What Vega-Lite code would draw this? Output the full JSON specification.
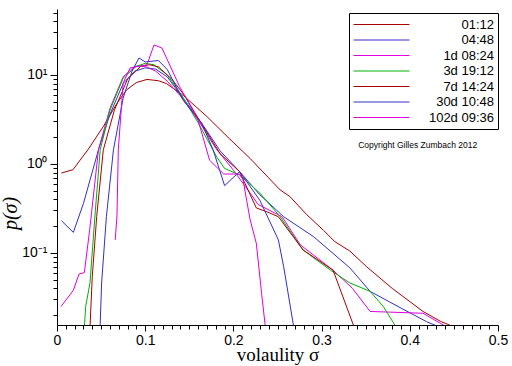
{
  "$schema": "https://vega.github.io/schema/vega-lite/v6.json",
  "autosize": "none",
  "padding": {"left": 57, "top": 9, "right": 14, "bottom": 41},
  "width": 441,
  "height": 316,
  "background": "white",
  "config": {"view": {"stroke": null}},
  "resolve": {"axis": {"x": "independent", "y": "independent"}},
  "datasets": {
    "curves": [
      {"s": "01:12", "x": 0.005, "y": 0.79}, {"s": "01:12", "x": 0.018, "y": 0.86}, {"s": "01:12", "x": 0.035, "y": 1.44}, {"s": "01:12", "x": 0.0525, "y": 2.63}, {"s": "01:12", "x": 0.068, "y": 4.8}, {"s": "01:12", "x": 0.079, "y": 6.8}, {"s": "01:12", "x": 0.09, "y": 8.2}, {"s": "01:12", "x": 0.102, "y": 8.9}, {"s": "01:12", "x": 0.115, "y": 8.6}, {"s": "01:12", "x": 0.124, "y": 8.0}, {"s": "01:12", "x": 0.143, "y": 5.9}, {"s": "01:12", "x": 0.17, "y": 3.4}, {"s": "01:12", "x": 0.196, "y": 1.9}, {"s": "01:12", "x": 0.219, "y": 1.15}, {"s": "01:12", "x": 0.253, "y": 0.51}, {"s": "01:12", "x": 0.264, "y": 0.43}, {"s": "01:12", "x": 0.283, "y": 0.27}, {"s": "01:12", "x": 0.302, "y": 0.18}, {"s": "01:12", "x": 0.315, "y": 0.134}, {"s": "01:12", "x": 0.332, "y": 0.105}, {"s": "01:12", "x": 0.351, "y": 0.07}, {"s": "01:12", "x": 0.38, "y": 0.04}, {"s": "01:12", "x": 0.415, "y": 0.022}, {"s": "01:12", "x": 0.435, "y": 0.017}, {"s": "01:12", "x": 0.452, "y": 0.0145},
      {"s": "04:48", "x": 0.005, "y": 0.23}, {"s": "04:48", "x": 0.0185, "y": 0.17}, {"s": "04:48", "x": 0.03, "y": 0.36}, {"s": "04:48", "x": 0.047, "y": 1.44}, {"s": "04:48", "x": 0.06, "y": 3.6}, {"s": "04:48", "x": 0.075, "y": 8}, {"s": "04:48", "x": 0.088, "y": 11}, {"s": "04:48", "x": 0.1, "y": 12}, {"s": "04:48", "x": 0.112, "y": 11.6}, {"s": "04:48", "x": 0.125, "y": 9.5}, {"s": "04:48", "x": 0.14, "y": 6}, {"s": "04:48", "x": 0.164, "y": 2.87}, {"s": "04:48", "x": 0.185, "y": 1.4}, {"s": "04:48", "x": 0.207, "y": 0.82}, {"s": "04:48", "x": 0.23, "y": 0.45}, {"s": "04:48", "x": 0.257, "y": 0.255}, {"s": "04:48", "x": 0.291, "y": 0.152}, {"s": "04:48", "x": 0.332, "y": 0.068}, {"s": "04:48", "x": 0.355, "y": 0.037}, {"s": "04:48", "x": 0.39, "y": 0.024}, {"s": "04:48", "x": 0.419, "y": 0.0169}, {"s": "04:48", "x": 0.435, "y": 0.0145},
      {"s": "1d 08:24", "x": 0.0045, "y": 0.025}, {"s": "1d 08:24", "x": 0.0185, "y": 0.038}, {"s": "1d 08:24", "x": 0.025, "y": 0.058}, {"s": "1d 08:24", "x": 0.031, "y": 0.06}, {"s": "1d 08:24", "x": 0.037, "y": 0.18}, {"s": "1d 08:24", "x": 0.047, "y": 1.44}, {"s": "1d 08:24", "x": 0.06, "y": 4.2}, {"s": "1d 08:24", "x": 0.075, "y": 9.5}, {"s": "1d 08:24", "x": 0.088, "y": 12.5}, {"s": "1d 08:24", "x": 0.1, "y": 12.5}, {"s": "1d 08:24", "x": 0.112, "y": 11}, {"s": "1d 08:24", "x": 0.125, "y": 8.5}, {"s": "1d 08:24", "x": 0.14, "y": 5.8}, {"s": "1d 08:24", "x": 0.16, "y": 3.1}, {"s": "1d 08:24", "x": 0.18, "y": 1.5}, {"s": "1d 08:24", "x": 0.2, "y": 0.85}, {"s": "1d 08:24", "x": 0.219, "y": 0.47}, {"s": "1d 08:24", "x": 0.228, "y": 0.35}, {"s": "1d 08:24", "x": 0.255, "y": 0.256}, {"s": "1d 08:24", "x": 0.276, "y": 0.123}, {"s": "1d 08:24", "x": 0.313, "y": 0.064}, {"s": "1d 08:24", "x": 0.335, "y": 0.04}, {"s": "1d 08:24", "x": 0.355, "y": 0.022}, {"s": "1d 08:24", "x": 0.415, "y": 0.021}, {"s": "1d 08:24", "x": 0.438, "y": 0.0155}, {"s": "1d 08:24", "x": 0.445, "y": 0.014},
      {"s": "3d 19:12", "x": 0.0305, "y": 0.012}, {"s": "3d 19:12", "x": 0.0325, "y": 0.025}, {"s": "3d 19:12", "x": 0.0374, "y": 0.046}, {"s": "3d 19:12", "x": 0.043, "y": 0.26}, {"s": "3d 19:12", "x": 0.049, "y": 1.44}, {"s": "3d 19:12", "x": 0.06, "y": 4}, {"s": "3d 19:12", "x": 0.075, "y": 9.2}, {"s": "3d 19:12", "x": 0.09, "y": 12.5}, {"s": "3d 19:12", "x": 0.1, "y": 13.5}, {"s": "3d 19:12", "x": 0.11, "y": 13}, {"s": "3d 19:12", "x": 0.125, "y": 10}, {"s": "3d 19:12", "x": 0.14, "y": 6.2}, {"s": "3d 19:12", "x": 0.16, "y": 2.9}, {"s": "3d 19:12", "x": 0.181, "y": 1.2}, {"s": "3d 19:12", "x": 0.19, "y": 0.89}, {"s": "3d 19:12", "x": 0.207, "y": 0.75}, {"s": "3d 19:12", "x": 0.23, "y": 0.47}, {"s": "3d 19:12", "x": 0.253, "y": 0.255}, {"s": "3d 19:12", "x": 0.279, "y": 0.108}, {"s": "3d 19:12", "x": 0.31, "y": 0.064}, {"s": "3d 19:12", "x": 0.332, "y": 0.046}, {"s": "3d 19:12", "x": 0.355, "y": 0.037}, {"s": "3d 19:12", "x": 0.37, "y": 0.025}, {"s": "3d 19:12", "x": 0.383, "y": 0.0155}, {"s": "3d 19:12", "x": 0.387, "y": 0.013},
      {"s": "7d 14:24", "x": 0.037, "y": 0.012}, {"s": "7d 14:24", "x": 0.04, "y": 0.054}, {"s": "7d 14:24", "x": 0.045, "y": 0.256}, {"s": "7d 14:24", "x": 0.0525, "y": 1.44}, {"s": "7d 14:24", "x": 0.065, "y": 4}, {"s": "7d 14:24", "x": 0.08, "y": 9}, {"s": "7d 14:24", "x": 0.095, "y": 12.5}, {"s": "7d 14:24", "x": 0.105, "y": 13}, {"s": "7d 14:24", "x": 0.115, "y": 12.3}, {"s": "7d 14:24", "x": 0.13, "y": 9}, {"s": "7d 14:24", "x": 0.145, "y": 5.8}, {"s": "7d 14:24", "x": 0.165, "y": 2.7}, {"s": "7d 14:24", "x": 0.185, "y": 1.3}, {"s": "7d 14:24", "x": 0.207, "y": 0.82}, {"s": "7d 14:24", "x": 0.226, "y": 0.32}, {"s": "7d 14:24", "x": 0.238, "y": 0.29}, {"s": "7d 14:24", "x": 0.251, "y": 0.255}, {"s": "7d 14:24", "x": 0.279, "y": 0.108}, {"s": "7d 14:24", "x": 0.313, "y": 0.064}, {"s": "7d 14:24", "x": 0.336, "y": 0.0155}, {"s": "7d 14:24", "x": 0.338, "y": 0.013},
      {"s": "30d 10:48", "x": 0.0485, "y": 0.012}, {"s": "30d 10:48", "x": 0.0506, "y": 0.046}, {"s": "30d 10:48", "x": 0.056, "y": 0.256}, {"s": "30d 10:48", "x": 0.064, "y": 1.44}, {"s": "30d 10:48", "x": 0.075, "y": 5.5}, {"s": "30d 10:48", "x": 0.085, "y": 11}, {"s": "30d 10:48", "x": 0.093, "y": 15.5}, {"s": "30d 10:48", "x": 0.1, "y": 14}, {"s": "30d 10:48", "x": 0.115, "y": 14.5}, {"s": "30d 10:48", "x": 0.125, "y": 11.5}, {"s": "30d 10:48", "x": 0.143, "y": 5.2}, {"s": "30d 10:48", "x": 0.164, "y": 2.87}, {"s": "30d 10:48", "x": 0.177, "y": 1.44}, {"s": "30d 10:48", "x": 0.19, "y": 0.57}, {"s": "30d 10:48", "x": 0.207, "y": 0.82}, {"s": "30d 10:48", "x": 0.23, "y": 0.39}, {"s": "30d 10:48", "x": 0.251, "y": 0.14}, {"s": "30d 10:48", "x": 0.257, "y": 0.07}, {"s": "30d 10:48", "x": 0.268, "y": 0.0155}, {"s": "30d 10:48", "x": 0.27, "y": 0.012},
      {"s": "102d 09:36", "x": 0.066, "y": 0.14}, {"s": "102d 09:36", "x": 0.068, "y": 0.26}, {"s": "102d 09:36", "x": 0.0695, "y": 1.44}, {"s": "102d 09:36", "x": 0.075, "y": 8.1}, {"s": "102d 09:36", "x": 0.083, "y": 12}, {"s": "102d 09:36", "x": 0.102, "y": 13}, {"s": "102d 09:36", "x": 0.11, "y": 21.7}, {"s": "102d 09:36", "x": 0.119, "y": 20}, {"s": "102d 09:36", "x": 0.139, "y": 7.4}, {"s": "102d 09:36", "x": 0.16, "y": 3.1}, {"s": "102d 09:36", "x": 0.173, "y": 1.1}, {"s": "102d 09:36", "x": 0.189, "y": 0.77}, {"s": "102d 09:36", "x": 0.207, "y": 0.77}, {"s": "102d 09:36", "x": 0.211, "y": 0.66}, {"s": "102d 09:36", "x": 0.215, "y": 0.39}, {"s": "102d 09:36", "x": 0.219, "y": 0.235}, {"s": "102d 09:36", "x": 0.226, "y": 0.128}, {"s": "102d 09:36", "x": 0.232, "y": 0.035}, {"s": "102d 09:36", "x": 0.236, "y": 0.0155}, {"s": "102d 09:36", "x": 0.237, "y": 0.012}
    ],
    "note": [
      {"note": "Copyright Gilles Zumbach 2012", "x": 0.409, "y": 1.63}
    ]
  },
  "layer": [
    {
      "data": {"name": "curves"},
      "mark": {"type": "line", "strokeWidth": 1, "clip": true, "interpolate": "linear"},
      "encoding": {
        "x": {
          "field": "x", "type": "quantitative",
          "scale": {"domain": [0, 0.5], "nice": false, "zero": false},
          "axis": {
            "orient": "bottom",
            "title": "volaulity   σ",
            "titleFont": "Liberation Serif", "titleFontSize": 19, "titleFontWeight": "normal", "titleColor": "black", "titlePadding": -2,
            "values": [0, 0.1, 0.2, 0.3, 0.4, 0.5],
            "labelExpr": "datum.value==0 ? '0' : format(datum.value,'.1f')",
            "labelOverlap": false, "labelFlush": false,
            "labelFont": "Liberation Sans", "labelFontSize": 14, "labelColor": "black", "labelPadding": 2,
            "tickSize": 6, "tickColor": "black", "domainColor": "black", "grid": false
          }
        },
        "y": {
          "field": "y", "type": "quantitative",
          "scale": {"type": "log", "domain": [0.0155, 55], "nice": false},
          "axis": {
            "orient": "left",
            "title": "p(σ)",
            "titleFont": "Liberation Serif", "titleFontSize": 20, "titleFontWeight": "normal", "titleFontStyle": "italic", "titleColor": "black",
            "titleX": -47, "titleY": 204, "titleAngle": -90, "titleAlign": "center", "titleBaseline": "middle",
            "values": [0.1, 1, 10],
            "labelExpr": "datum.value==10 ? '10¹' : datum.value==1 ? '10⁰' : '10⁻¹'",
            "labelOverlap": false,
            "labelFont": "Liberation Sans", "labelFontSize": 14, "labelColor": "black", "labelPadding": 3,
            "tickSize": 7, "tickColor": "black", "domainColor": "black", "grid": false
          }
        },
        "color": {
          "field": "s", "type": "nominal",
          "scale": {
            "domain": ["01:12", "04:48", "1d 08:24", "3d 19:12", "7d 14:24", "30d 10:48", "102d 09:36"],
            "range": ["#a80000", "#3030c8", "#e000e0", "#00b000", "#a80000", "#3030c8", "#e000e0"]
          },
          "legend": {
            "title": null,
            "orient": "none", "legendX": 292, "legendY": 4,
            "strokeColor": "black", "fillColor": "white", "padding": 4,
            "symbolType": "M-4,0H4", "symbolSize": 196, "symbolStrokeWidth": 1, "symbolOffset": 21,
            "labelAlign": "right", "labelOffset": 105,
            "labelFont": "Liberation Sans", "labelFontSize": 13, "labelColor": "black",
            "rowPadding": 0.5
          }
        },
        "order": {"field": "x", "type": "quantitative"}
      }
    },
    {
      "data": {"name": "note"},
      "mark": {"type": "text", "font": "Liberation Sans", "fontSize": 8.5, "color": "black"},
      "encoding": {
        "x": {
          "field": "x", "type": "quantitative",
          "axis": {
            "orient": "bottom", "title": null, "labels": false, "domain": false, "grid": false,
            "tickSize": 4, "tickColor": "black",
            "values": [0.01,0.02,0.03,0.04,0.05,0.06,0.07,0.08,0.09,0.11,0.12,0.13,0.14,0.15,0.16,0.17,0.18,0.19,0.21,0.22,0.23,0.24,0.25,0.26,0.27,0.28,0.29,0.31,0.32,0.33,0.34,0.35,0.36,0.37,0.38,0.39,0.41,0.42,0.43,0.44,0.45,0.46,0.47,0.48,0.49]
          }
        },
        "y": {
          "field": "y", "type": "quantitative",
          "axis": {
            "orient": "left", "title": null, "labels": false, "domain": false, "grid": false,
            "tickSize": 4, "tickColor": "black",
            "values": [0.02,0.03,0.04,0.05,0.06,0.07,0.08,0.09,0.2,0.3,0.4,0.5,0.6,0.7,0.8,0.9,2,3,4,5,6,7,8,9,20,30,40,50]
          }
        },
        "text": {"field": "note", "type": "nominal"}
      }
    }
  ]
}
